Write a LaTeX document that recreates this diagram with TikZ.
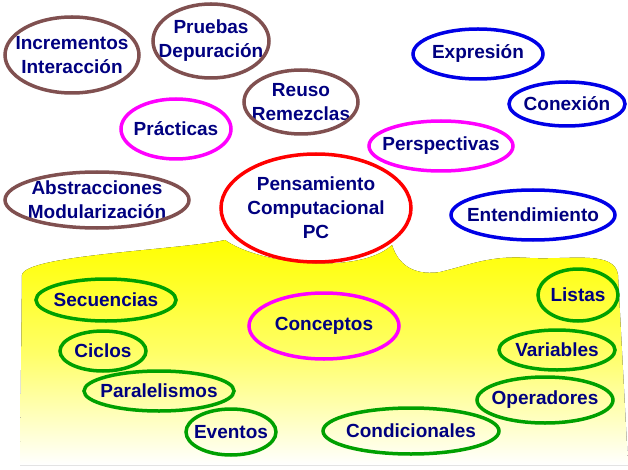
\documentclass[tikz,border=0pt]{standalone}
\usepackage{fontspec}
\setmainfont{Liberation Sans}
\definecolor{brn}{RGB}{128,80,80}
\definecolor{mag}{RGB}{255,0,255}
\definecolor{blu}{RGB}{0,0,230}
\definecolor{grn}{RGB}{0,160,0}
\definecolor{txt}{RGB}{0,0,128}
\newcommand{\myoval}[6]{%
  \node[lbl] (#1) at (#2) {#6};
  \draw[line width=3.5pt,#3] (#1.center) ellipse [x radius=#4pt, y radius=#5pt];}
\begin{document}
\begin{tikzpicture}[x=1pt,y=-1pt,
  lbl/.style={inner sep=0pt,font=\fontsize{19}{24}\selectfont\bfseries,text=txt,align=center}]
\useasboundingbox (0,0) rectangle (628,470);
\fill[top color=yellow,bottom color=white,middle color=yellow!60]
  (22,275) .. controls (25,255) and (180,250) .. (225,240)
  .. controls (260,265) and (360,275) .. (392,245)
  .. controls (400,270) and (420,275) .. (440,272)
  .. controls (470,265) and (490,255) .. (530,258)
  .. controls (570,260) and (615,250) .. (618,275)
  -- (628,465) -- (20,465) -- cycle;
\myoval{inc}{72,55}{brn}{67}{38}{Incrementos\\Interacción}
\myoval{pru}{211,41}{brn}{58}{37}{Pruebas\\Depuración}
\myoval{reu}{301,102}{brn}{57}{32}{Reuso\\Remezclas}
\myoval{pra}{176,129}{mag}{55}{30}{Prácticas}
\myoval{abs}{97,200}{brn}{92}{28}{Abstracciones\\Modularización}
\myoval{pc}{316,208}{red}{95}{54}{Pensamiento\\Computacional\\PC}
\myoval{per}{441,146}{mag}{72}{25}{Perspectivas}
\myoval{exp}{478,54}{blu}{65}{25}{Expresión}
\myoval{con}{567,104}{blu}{58}{22}{Conexión}
\myoval{ent}{533,215}{blu}{82}{25}{Entendimiento}
\myoval{cpt}{324,326}{mag}{75}{33}{Conceptos}
\myoval{sec}{106,300}{grn}{70}{21}{Secuencias}
\myoval{cic}{103,351}{grn}{43}{20}{Ciclos}
\myoval{par}{159,391}{grn}{75}{20}{Paralelismos}
\myoval{eve}{231,432}{grn}{45}{23}{Eventos}
\myoval{cond}{411,431}{grn}{88}{23}{Condicionales}
\myoval{lis}{578,295}{grn}{40}{26}{Listas}
\myoval{var}{557,350}{grn}{58}{20}{Variables}
\myoval{ope}{545,400}{grn}{68}{23}{Operadores}
\end{tikzpicture}
\end{document}
